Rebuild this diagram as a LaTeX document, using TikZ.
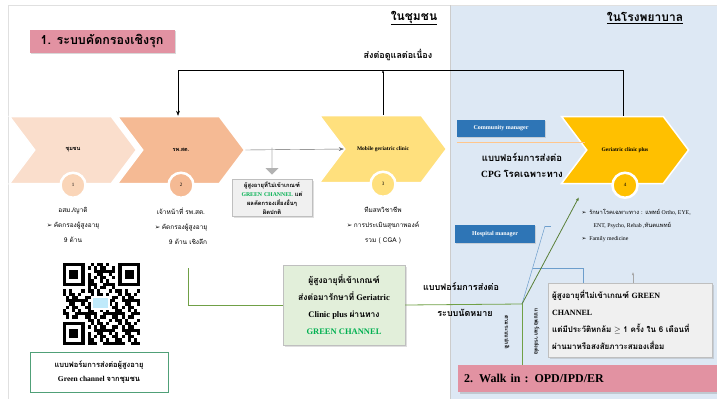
\documentclass[tikz,border=0pt]{standalone}
\usepackage{fontspec}
\setmainfont{Liberation Serif}
\newfontfamily\thaifont[Script=Thai]{Loma}
\newfontfamily\symfont{DejaVu Sans}
\usepackage{tikz}
\usetikzlibrary{arrows.meta, positioning, shapes.symbols, shapes.arrows, shadows}
\newcommand{\tht}[1]{{\thaifont #1}}
\newcommand{\bul}{{\symfont\char"27A2}}
\definecolor{hosp}{RGB}{221,232,244}
\definecolor{peachA}{RGB}{250,222,204}
\definecolor{peachB}{RGB}{245,186,148}
\definecolor{sunA}{RGB}{255,224,125}
\definecolor{sunB}{RGB}{255,192,0}
\definecolor{rosy}{RGB}{226,146,162}
\definecolor{mgrblue}{RGB}{46,117,182}
\definecolor{paleg}{RGB}{226,239,218}
\definecolor{gline}{RGB}{112,160,70}
\definecolor{gtext}{RGB}{0,176,80}
\definecolor{qrline}{RGB}{80,160,120}
\tikzset{
  chev/.style={signal, signal to=east, signal from=west, signal pointer angle=106,
               minimum width=127pt, minimum height=67pt, inner sep=0pt,
               draw=white, line width=1.5pt, font=\fontsize{5.5}{6}\selectfont\bfseries},
  badge/.style={circle, draw=white, line width=2.5pt, minimum size=25pt, inner sep=0pt,
                font=\fontsize{5}{6}\selectfont},
  tag/.style={fill=rosy, inner sep=2pt, font=\fontsize{12.5}{14}\selectfont\bfseries,
              drop shadow={opacity=0.3, shadow xshift=1.5pt, shadow yshift=-1.5pt}},
  note/.style={draw=black!25, fill=black!6, align=center, inner sep=2pt,
               drop shadow={opacity=0.25, shadow xshift=1.5pt, shadow yshift=-1.5pt}},
  mgr/.style={fill=mgrblue, text=white, font=\fontsize{6}{7}\selectfont\bfseries,
              drop shadow={opacity=0.25, shadow xshift=1pt, shadow yshift=-1pt}},
  info/.style={align=center, font=\fontsize{6.5}{15}\selectfont},
  zone/.style={font=\fontsize{12}{14}\selectfont\bfseries},
  lbl/.style={font=\fontsize{9}{16}\selectfont\bfseries, align=center},
  flow/.style={-{Stealth[length=5pt]}, thin},
  gpath/.style={draw=gline, line width=0.8pt},
  bpath/.style={draw=mgrblue!70, line width=0.5pt}
}

\begin{document}
\begin{tikzpicture}[x=1pt, y=-1pt]
  \useasboundingbox (0,0) rectangle (717,399);
  \fill[white] (0,0) rectangle (717,399);
  \fill[hosp] (450,5) rectangle (717,399);
  \draw[black!12] (8,399) -- (8,5) -- (717,5);
  \draw[black!20] (450,5) -- (450,399);

  % headings
  \node[tag, minimum width=145pt, minimum height=23pt] (act) at (102,41) {\tht{1. ระบบคัดกรองเชิงรุก}};
  \node[zone] (comm) at (414,18) {\underline{\tht{ในชุมชน}}};
  \node[zone] (hosp) at (645,18) {\underline{\tht{ในโรงพยาบาล}}};
  \node[lbl] (cont) at (398,55) {\tht{ส่งต่อดูแลต่อเนื่อง}};

  % chevrons
  \node[chev, fill=peachA] (c1) at (73,150) {\tht{ชุมชน}};
  \node[chev, fill=peachB] (c2) at (181,150) {\tht{รพ.สต.}};
  \node[chev, fill=sunA] (c3) at (383,149) {Mobile geriatric clinic};
  \node[chev, fill=sunB] (c4) at (625,150) {Geriatric clinic plus};
  \foreach \c/\n/\col in {c1/1/peachA!90!orange, c2/2/peachB, c3/3/sunA, c4/4/sunB}
    \node[badge, fill=\col] (b\n) at ([yshift=-1pt]\c.south) {\n};

  % loop back
  \coordinate (tl) at (178,70);
  \coordinate (tr) at (623,70);
  \draw[flow] (c4.north -| tr) -- (tr) -- (tl) -- (tl |- c2.north);
  \draw[-{Latex[length=2.5pt]}] (c3.north) -- (c3.north |- tl);
  \draw[flow, black!60] (c2.east) -- (c3.west);

  % step texts
  \node[info, below=5pt of b1] (t1) {\tht{อสม./ญาติ}\\\bul\ \tht{คัดกรองผู้สูงอายุ}\\\tht{9 ด้าน}};
  \node[info, below=5pt of b2] (t2) {\tht{เจ้าหน้าที่ รพ.สต.}\\\bul\ \tht{คัดกรองผู้สูงอายุ}\\\hspace*{14pt}\tht{9 ด้าน เชิงลึก}};
  \node[info, below=5pt of b3] (t3) {\tht{ทีมสหวิชาชีพ}\\\bul\ \tht{การประเมินสุขภาพองค์}\\\tht{รวม ( CGA )}};

  % not in green channel, community
  \node[single arrow, shape border rotate=270, fill=black!30, minimum height=27pt,
        minimum width=13pt, single arrow head extend=4pt, inner sep=0pt] (dn) at (272,161) {};
  \node[note, text width=76pt, font=\fontsize{5.8}{9}\selectfont\bfseries] (nb) at (272,198)
    {\tht{ผู้สูงอายุที่ไม่เข้าเกณฑ์}\\{\color{gtext}GREEN CHANNEL} \tht{แต่}\\\tht{ผลคัดกรองเสี่ยงอื่นๆ}\\\tht{ผิดปกติ}};

  % green channel
  \node[note, fill=paleg, minimum width=122pt, minimum height=80pt,
        font=\fontsize{8.5}{17}\selectfont\bfseries] (gb) at (344,305)
    {\tht{ผู้สูงอายุที่เข้าเกณฑ์}\\\tht{ส่งต่อมารักษาที่} Geriatric\\Clinic plus \tht{ผ่านทาง}\\{\color{gtext}GREEN CHANNEL}};
  \coordinate (gs) at (188,268);
  \coordinate (j) at (522,304);
  \coordinate (ga) at (579,197);
  \draw[gpath] (gs) |- (gb.west);
  \draw[gpath] (gb.east) -- (j);
  \node[lbl] (frm) at (461,287) {\tht{แบบฟอร์มการส่งต่อ}};
  \node[lbl] (app) at (465,313) {\tht{ระบบนัดหมาย}};

  % hospital side
  \node[mgr, minimum width=88pt, minimum height=17pt] (cm) at (501,128) {Community manager};
  \draw[draw=orange!45, line width=0.7pt] ([yshift=-6pt]cm.south west) -- ++(128,0);
  \node[lbl, font=\fontsize{9.5}{16}\selectfont\bfseries] (cpg) at (522,165) {\tht{แบบฟอร์มการส่งต่อ}\\CPG \tht{โรคเฉพาะทาง}};
  \node[mgr, minimum width=80pt, minimum height=18pt] (hm) at (495,234) {Hospital manager};
  \node[anchor=north west, align=left, font=\fontsize{5.8}{13}\selectfont] (lst) at (578,206)
    {\bul\ \ \tht{รักษาโรคเฉพาะทาง : แพทย์} Ortho, EYE,\\\hspace*{12pt}ENT, Psycho, Rehab ,\tht{ทันตแพทย์}\\\bul\ \ Family medicine};

  \node[note, anchor=north west, minimum width=164pt, minimum height=74pt, text width=156pt, align=left,
        font=\fontsize{8}{17}\selectfont\bfseries] (rb) at (548,283)
    {\tht{ผู้สูงอายุที่ไม่เข้าเกณฑ์} GREEN\\CHANNEL\\\tht{แต่มีประวัติหกล้ม} $\geq$ \tht{1 ครั้ง ใน 6 เดือนที่}\\\tht{ผ่านมาหรือสงสัยภาวะสมองเสื่อม}};
  \coordinate (up) at (633,272);
  \draw[-{Latex[length=3pt]}, black!35] (rb.north -| up) -- (up);

  \node[tag, anchor=north west, minimum width=259pt, minimum height=27pt, text width=247pt, align=left,
        font=\fontsize{12}{14}\selectfont\bfseries] (walk) at (458,365) {2. Walk in : OPD/IPD/ER};

  \node[rotate=-90, font=\fontsize{5.5}{6}\selectfont\bfseries] (v1) at (507,332) {\tht{ตามระบบปกติ}};
  \node[rotate=-90, font=\fontsize{5.5}{6}\selectfont\bfseries] (v2) at (537,332) {\tht{แบบฟอร์มการส่งต่อ}};

  \coordinate (hk) at (545,226);
  \coordinate (bb) at (533,268);
  \draw[bpath] (hk) -- ++(6,0);
  \draw[bpath] (hk) -- (j);
  \draw[bpath] (bb) -| (rb.north -| 583,0);
  \draw[gpath] (j) -- (j |- walk.north);
  \draw[gpath, draw=gline!80!black, -{Latex[length=4pt]}] (j) -- (ga);

  % qr code
  \foreach \i in {0,...,24}{
    \foreach \k in {0,...,24}{
      \pgfmathtruncatemacro\q{mod(\i*\i*7+\k*\k*5+\i*\k*3+\i+2*\k,9)}
      \pgfmathtruncatemacro\fz{((\i<8 && \k<8) || (\i>16 && \k<8) || (\i<8 && \k>16)) ? 1 : 0}
      \ifnum\fz=0 \ifnum\q<4 \fill (63+\i*3.08, 263+\k*3.28) rectangle ++(3.08,3.28); \fi\fi
    }
  }
  \foreach \fx/\fy in {0/0, 18/0, 0/18}{
    \fill (63+\fx*3.08, 263+\fy*3.28) rectangle ++(21.56,22.96);
    \fill[white] (63+\fx*3.08+3.08, 263+\fy*3.28+3.28) rectangle ++(15.4,16.4);
    \fill (63+\fx*3.08+6.16, 263+\fy*3.28+6.56) rectangle ++(9.24,9.84);
  }
  \fill[white] (91,296) rectangle (110,310);
  \fill[cyan!25] (93,298) rectangle (108,308);
  \node[draw=qrline, line width=1pt, fill=white, minimum width=138pt, minimum height=40pt,
        align=center, font=\fontsize{7.5}{14}\selectfont\bfseries] (qrf) at (99,372)
    {\tht{แบบฟอร์มการส่งต่อผู้สูงอายุ}\\Green channel \tht{จากชุมชน}};
\end{tikzpicture}
\end{document}
